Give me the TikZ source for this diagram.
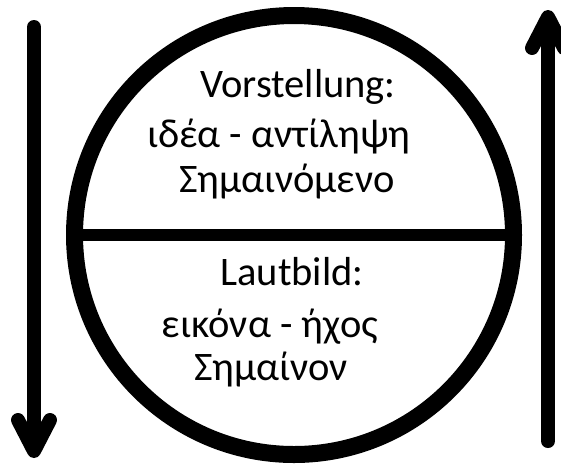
\documentclass[tikz,border=0pt]{standalone}
\usepackage{fontspec}
\setmainfont{Carlito}
\usetikzlibrary{arrows.meta}
\begin{document}
\begin{tikzpicture}[x=1pt, y=-1pt,
  every node/.style={font=\fontsize{40.5}{48}\selectfont, inner sep=0pt},
  flow/.style={line width=14pt, line cap=round, -{Straight Barb[length=31pt,width=32pt,round]}}]
  \useasboundingbox (0,0) rectangle (561,464);
  \node[draw, circle, line width=17pt, minimum size=439pt] (ring) at (294,235) {};
  \draw[line width=12pt] (ring.west) -- (ring.east);
  \coordinate (downtop) at (34,27); \coordinate (downend) at (34,458);
  \coordinate (upbottom) at (548,441); \coordinate (uptop) at (548,10);
  \draw[flow] (downtop) -- (downend);
  \draw[flow] (upbottom) -- (uptop);
  \foreach \n/\x/\y/\t in {vorst/298/97/Vorstellung:, idea/279/147/ιδέα - αντίληψη, signified/287/192/Σημαινόμενο,
      laut/292/285/Lautbild:, eikona/270/337/εικόνα - ήχος, signifier/271/380/Σημαίνον}
    \node[anchor=base] (\n) at (\x,\y) {\t};
\end{tikzpicture}
\end{document}
